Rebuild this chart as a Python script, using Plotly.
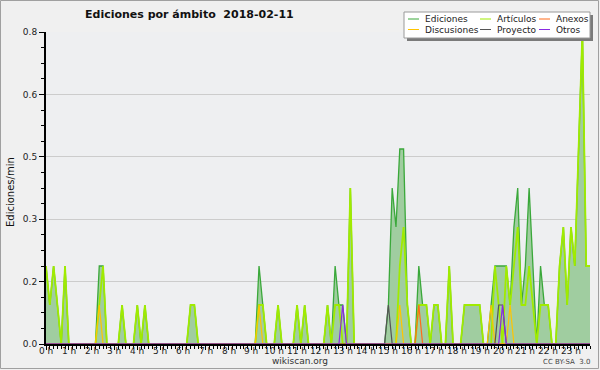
import plotly.graph_objects as go

# ---- data: edits per minute, 10-minute bins (6 per hour), 2018-02-11 ----
hours = list(range(24))
hour_labels = [f"{h} h" for h in hours]

ediciones = (
    [0.2, 0.1, 0.2, 0.1, 0, 0.2] + [0, 0, 0, 0, 0, 0] + [0, 0, 0.2, 0.2, 0, 0] +
    [0, 0, 0.1, 0, 0, 0] + [0.1, 0, 0.1, 0, 0, 0] + [0, 0, 0, 0, 0, 0] +
    [0, 0, 0.1, 0.1, 0, 0] + [0, 0, 0, 0, 0, 0] + [0, 0, 0, 0, 0, 0] +
    [0, 0, 0.2, 0.1, 0, 0] + [0, 0.1, 0, 0, 0, 0] + [0.1, 0, 0.1, 0, 0, 0] +
    [0, 0, 0.1, 0, 0.2, 0.1] + [0.1, 0, 0.4, 0, 0, 0] + [0, 0, 0, 0, 0, 0] +
    [0.1, 0.4, 0.3, 0.5, 0.5, 0.1] + [0, 0, 0.2, 0.1, 0.1, 0] + [0.1, 0.1, 0, 0, 0.2, 0] +
    [0, 0, 0.1, 0.1, 0.1, 0.1] + [0.1, 0, 0, 0.1, 0.2, 0.2] + [0.2, 0.2, 0.1, 0.3, 0.4, 0.1] +
    [0.2, 0.4, 0.2, 0, 0.2, 0.1] + [0.1, 0, 0, 0.2, 0.3, 0.1] + [0.3, 0.2, 0.5, 0.8, 0.2, 0.2]
)
articulos = (
    [0.2, 0.1, 0.2, 0.1, 0, 0.2] + [0, 0, 0, 0, 0, 0] + [0, 0, 0.1, 0.2, 0, 0] +
    [0, 0, 0.1, 0, 0, 0] + [0.1, 0, 0.1, 0, 0, 0] + [0, 0, 0, 0, 0, 0] +
    [0, 0, 0.1, 0.1, 0, 0] + [0, 0, 0, 0, 0, 0] + [0, 0, 0, 0, 0, 0] +
    [0, 0, 0.1, 0.1, 0, 0] + [0, 0.1, 0, 0, 0, 0] + [0.1, 0, 0.1, 0, 0, 0] +
    [0, 0, 0.1, 0, 0.1, 0.1] + [0, 0, 0.4, 0, 0, 0] + [0, 0, 0, 0, 0, 0] +
    [0, 0, 0, 0.2, 0.3, 0.1] + [0, 0, 0.1, 0.1, 0.1, 0] + [0.1, 0.1, 0, 0, 0.2, 0] +
    [0, 0, 0.1, 0.1, 0.1, 0.1] + [0.1, 0, 0, 0, 0.2, 0.1] + [0, 0.2, 0.1, 0.2, 0.3, 0.1] +
    [0.1, 0.2, 0.1, 0, 0.1, 0.1] + [0.1, 0, 0, 0.2, 0.3, 0.1] + [0.3, 0.2, 0.5, 0.8, 0.2, 0.2]
)
# sparse namespaces: {bin index: value}
discusiones_pts = {14: 0.1, 56: 0.1, 93: 0.1, 117: 0.1, 122: 0.1}
proyecto_pts = {90: 0.1, 119: 0.1, 120: 0.1}
anexos_pts = {98: 0.1}
otros_pts = {78: 0.1, 120: 0.1}

N = len(ediciones)
xs = [i / 6 for i in range(N)]


def dense(pts):
    return [pts.get(i, 0) for i in range(N)]


discusiones = dense(discusiones_pts)
proyecto = dense(proyecto_pts)
anexos = dense(anexos_pts)
otros = dense(otros_pts)

C_EDI = "#3aa83a"
C_FILL = "rgb(160,205,160)"
C_ART = "rgb(160,235,0)"
C_DIS = "#ffc400"
C_PRO = "#555555"
C_ANE = "#ff6a1a"
C_OTR = "#8a2be2"

fig = go.Figure()
fig.add_trace(go.Scatter(x=xs, y=ediciones, mode="lines", fill="tozeroy",
                         fillcolor=C_FILL, line=dict(color=C_EDI, width=1.3),
                         name="Ediciones", hoverinfo="skip"))
fig.add_trace(go.Scatter(x=xs, y=articulos, mode="lines",
                         line=dict(color=C_ART, width=1.8), name="Artículos", hoverinfo="skip"))
for name, ys, col in [("Discusiones", discusiones, C_DIS), ("Anexos", anexos, C_ANE),
                      ("Proyecto", proyecto, C_PRO), ("Otros", otros, C_OTR)]:
    fig.add_trace(go.Scatter(x=xs, y=ys, mode="lines", line=dict(color=col, width=1.2),
                             name=name, hoverinfo="skip"))

# ---- layout geometry (pixels) ----
W, H = 600, 370
L, R, T, B = 46, 10, 32, 26
PW, PH = W - L - R, H - T - B


def px(x):
    return (x - L) / PW


def py(y):
    return (H - B - y) / PH


font = "DejaVu Sans"
ytv = [0, 0.16, 0.32, 0.48, 0.64, 0.8]
ytt = ["0.0", "0.2", "0.3", "0.5", "0.6", "0.8"]

fig.update_layout(
    width=W, height=H, margin=dict(l=L, r=R, t=T, b=B, autoexpand=False),
    paper_bgcolor="#f0f0f0", plot_bgcolor="#eeeff1",
    showlegend=False,
    font=dict(family=font, size=9, color="#222"),
    title=dict(text="<b>Ediciones por ámbito  2018-02-11</b>", x=85 / W, xanchor="left",
               y=1 - 14 / H, yanchor="middle", font=dict(size=11, color="#111", family=font)),
    xaxis=dict(range=[0, (N - 1) / 6], tickmode="array", tickvals=hours, ticktext=hour_labels,
               showticklabels=False,
               ticks="outside", ticklen=4, tickcolor="black", tickwidth=1,
               showline=True, linecolor="black", linewidth=2, showgrid=False, zeroline=False,
               minor=dict(tick0=0, dtick=1 / 6, ticks="outside", ticklen=3, tickcolor="black")),
    yaxis=dict(range=[0, 0.8], tickmode="array", tickvals=ytv, ticktext=ytt,
               ticks="outside", ticklen=5, tickcolor="black", tickwidth=1,
               showline=True, linecolor="black", linewidth=2, showgrid=True,
               gridcolor="#cccccc", gridwidth=1, zeroline=False,
               tickfont=dict(size=9, family=font, color="#222"),
               minor=dict(tick0=0, dtick=0.04, ticks="outside", ticklen=3, tickcolor="black",
                          showgrid=False)),
)

shapes = []
annotations = []
# hour labels just under the axis
for h, lab in zip(hours, hour_labels):
    annotations.append(dict(text=lab, xref="x", yref="paper", x=h, y=py(350.5),
                            xanchor="center", yanchor="middle", showarrow=False,
                            font=dict(size=9, family=font, color="#222")))
# outer border
shapes.append(dict(type="rect", xref="paper", yref="paper", x0=px(0.5), x1=px(598.5),
                   y0=py(368.5), y1=py(0.5), line=dict(color="#a0a0a0", width=1),
                   fillcolor="rgba(0,0,0,0)", layer="above"))
# legend shadow + box
shapes.append(dict(type="rect", xref="paper", yref="paper", x0=px(407), x1=px(593),
                   y0=py(41), y1=py(15), line=dict(width=0), fillcolor="#7a7a7a", layer="above"))
shapes.append(dict(type="rect", xref="paper", yref="paper", x0=px(404), x1=px(590),
                   y0=py(38), y1=py(12), line=dict(color="#9a9a9a", width=1),
                   fillcolor="white", layer="above"))
legend_items = [
    ("Ediciones", C_EDI, 408, 19), ("Artículos", C_ART, 480, 19), ("Anexos", C_ANE, 539, 19),
    ("Discusiones", C_DIS, 408, 29.5), ("Proyecto", C_PRO, 480, 29.5), ("Otros", C_OTR, 539, 29.5),
]
for name, col, lx, ly in legend_items:
    shapes.append(dict(type="line", xref="paper", yref="paper", x0=px(lx), x1=px(lx + 11),
                       y0=py(ly), y1=py(ly), line=dict(color=col, width=1), layer="above"))
    annotations.append(dict(text=name, xref="paper", yref="paper", x=px(lx + 15), y=py(ly),
                            xanchor="left", yanchor="middle", showarrow=False,
                            font=dict(size=9, family=font, color="#222")))

annotations.append(dict(text="Ediciones/min", xref="paper", yref="paper", x=px(10), y=py(192),
                        textangle=-90, xanchor="center", yanchor="middle", showarrow=False,
                        font=dict(size=10, family=font, color="#111")))
annotations.append(dict(text="wikiscan.org", xref="paper", yref="paper", x=px(300), y=py(361),
                        xanchor="center", yanchor="middle", showarrow=False,
                        font=dict(size=9, family=font, color="#333")))
annotations.append(dict(text="CC BY-SA  3.0", xref="paper", yref="paper", x=px(566), y=py(362),
                        xanchor="center", yanchor="middle", showarrow=False,
                        font=dict(size=7, family=font, color="#444")))

fig.update_layout(shapes=shapes, annotations=annotations)
fig.write_html("out.html", config={"displayModeBar": False},
               post_script="document.body.style.margin='0';")
